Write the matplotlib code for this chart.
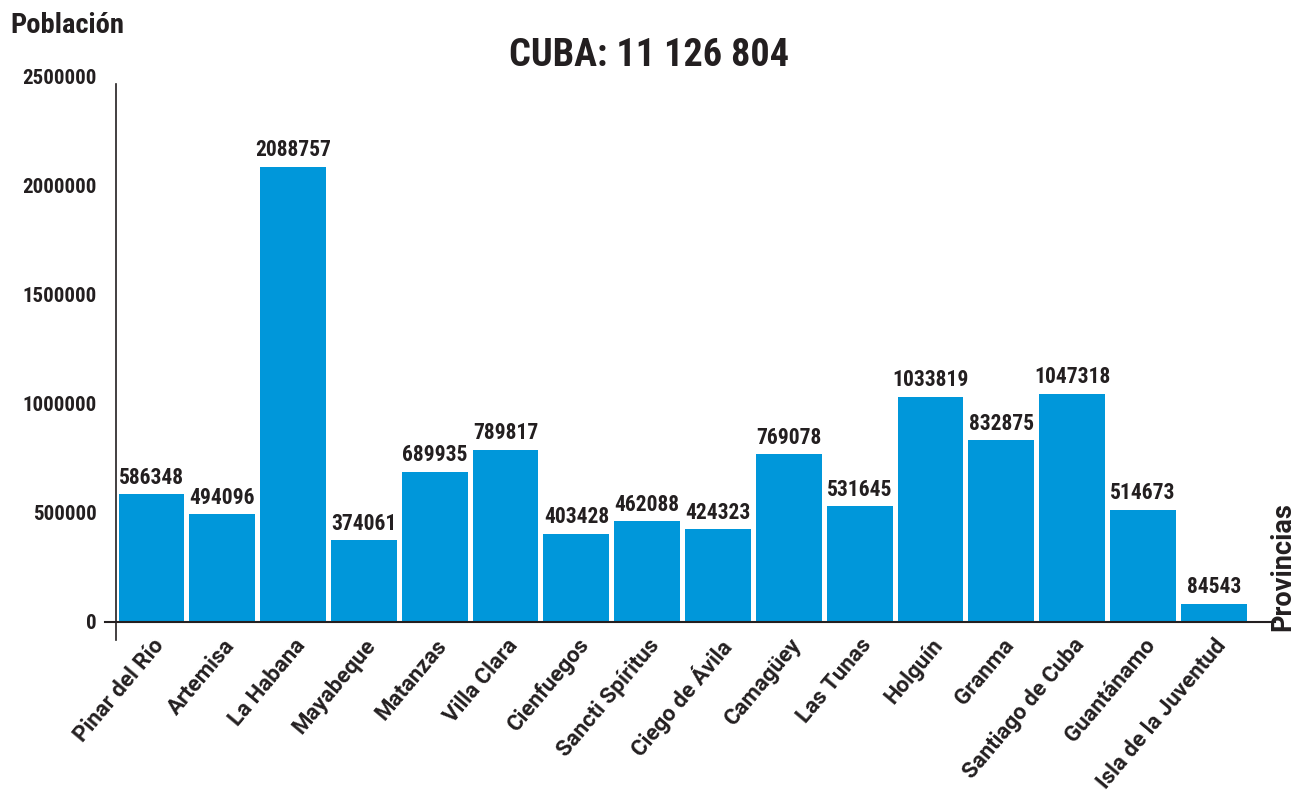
import matplotlib.pyplot as plt

# datos del censo por provincia
provincias = ['Pinar del Río', 'Artemisa', 'La Habana', 'Mayabeque', 'Matanzas',
              'Villa Clara', 'Cienfuegos', 'Sancti Spíritus', 'Ciego de Ávila',
              'Camagüey', 'Las Tunas', 'Holguín', 'Granma', 'Santiago de Cuba',
              'Guantánamo', 'Isla de la Juventud']
poblacion = [586348, 494096, 2088757, 374061, 689935, 789817, 403428, 462088,
             424323, 769078, 531645, 1033819, 832875, 1047318, 514673, 84543]
yticks = [0, 500000, 1000000, 1500000, 2000000, 2500000]

narrow = ['Roboto Condensed', 'IBM Plex Sans Condensed', 'Liberation Sans']
ancha = ['Roboto', 'Liberation Sans', 'DejaVu Sans']
azul = '#0097DA'
negro = '#231f20'

fig = plt.figure(figsize=(12.98, 7.96), dpi=100)
ax = fig.add_axes([0.0894, 0.2186, 0.8926, 0.6847])

x = range(len(provincias))
bars = ax.bar(x, poblacion, width=0.93, color=azul, zorder=2)

for b, v in zip(bars, poblacion):
    ax.annotate(str(v), (b.get_x() + b.get_width() / 2, v), xytext=(0, 4),
                textcoords='offset points', ha='center', va='bottom',
                fontsize=15.5, fontweight='bold', family=narrow, color=negro)

ax.set_xlim(-0.5, 15.86)
ax.set_ylim(0, 2500000)

ax.set_yticks(yticks)
ax.set_yticklabels([str(t) for t in yticks], fontsize=15, fontweight='bold',
                   family=narrow, color=negro)
ax.tick_params(axis='y', length=0, pad=14)

# etiquetas de provincias en diagonal
ax.set_xticks(list(x))
ax.set_xticklabels(provincias, rotation=50, ha='right', rotation_mode='anchor',
                   fontsize=16, fontweight='bold', family=ancha, color=negro)
ax.tick_params(axis='x', length=0, pad=9)

for s in ['top', 'right']:
    ax.spines[s].set_visible(False)
ax.spines['left'].set_bounds(-82000, 2470000)
ax.spines['left'].set_linewidth(1.2)
ax.spines['left'].set_color(negro)
ax.spines['bottom'].set_bounds(-0.66, 15.86)
ax.spines['bottom'].set_linewidth(1.5)
ax.spines['bottom'].set_color(negro)
ax.spines['bottom'].set_zorder(3)

fig.text(0.5, 0.93, 'CUBA: 11 126 804', ha='center', va='center', fontsize=27.5,
         fontweight='bold', family=narrow, color=negro)
fig.text(0.008, 0.968, 'Población', ha='left', va='center', fontsize=20.5,
         fontweight='bold', family=narrow, color=negro)
fig.text(0.999, 0.288, 'Provincias', ha='right', va='center', rotation=90,
         fontsize=19.5, fontweight='bold', family=ancha, color=negro)

fig.savefig('out.png', dpi=100)
